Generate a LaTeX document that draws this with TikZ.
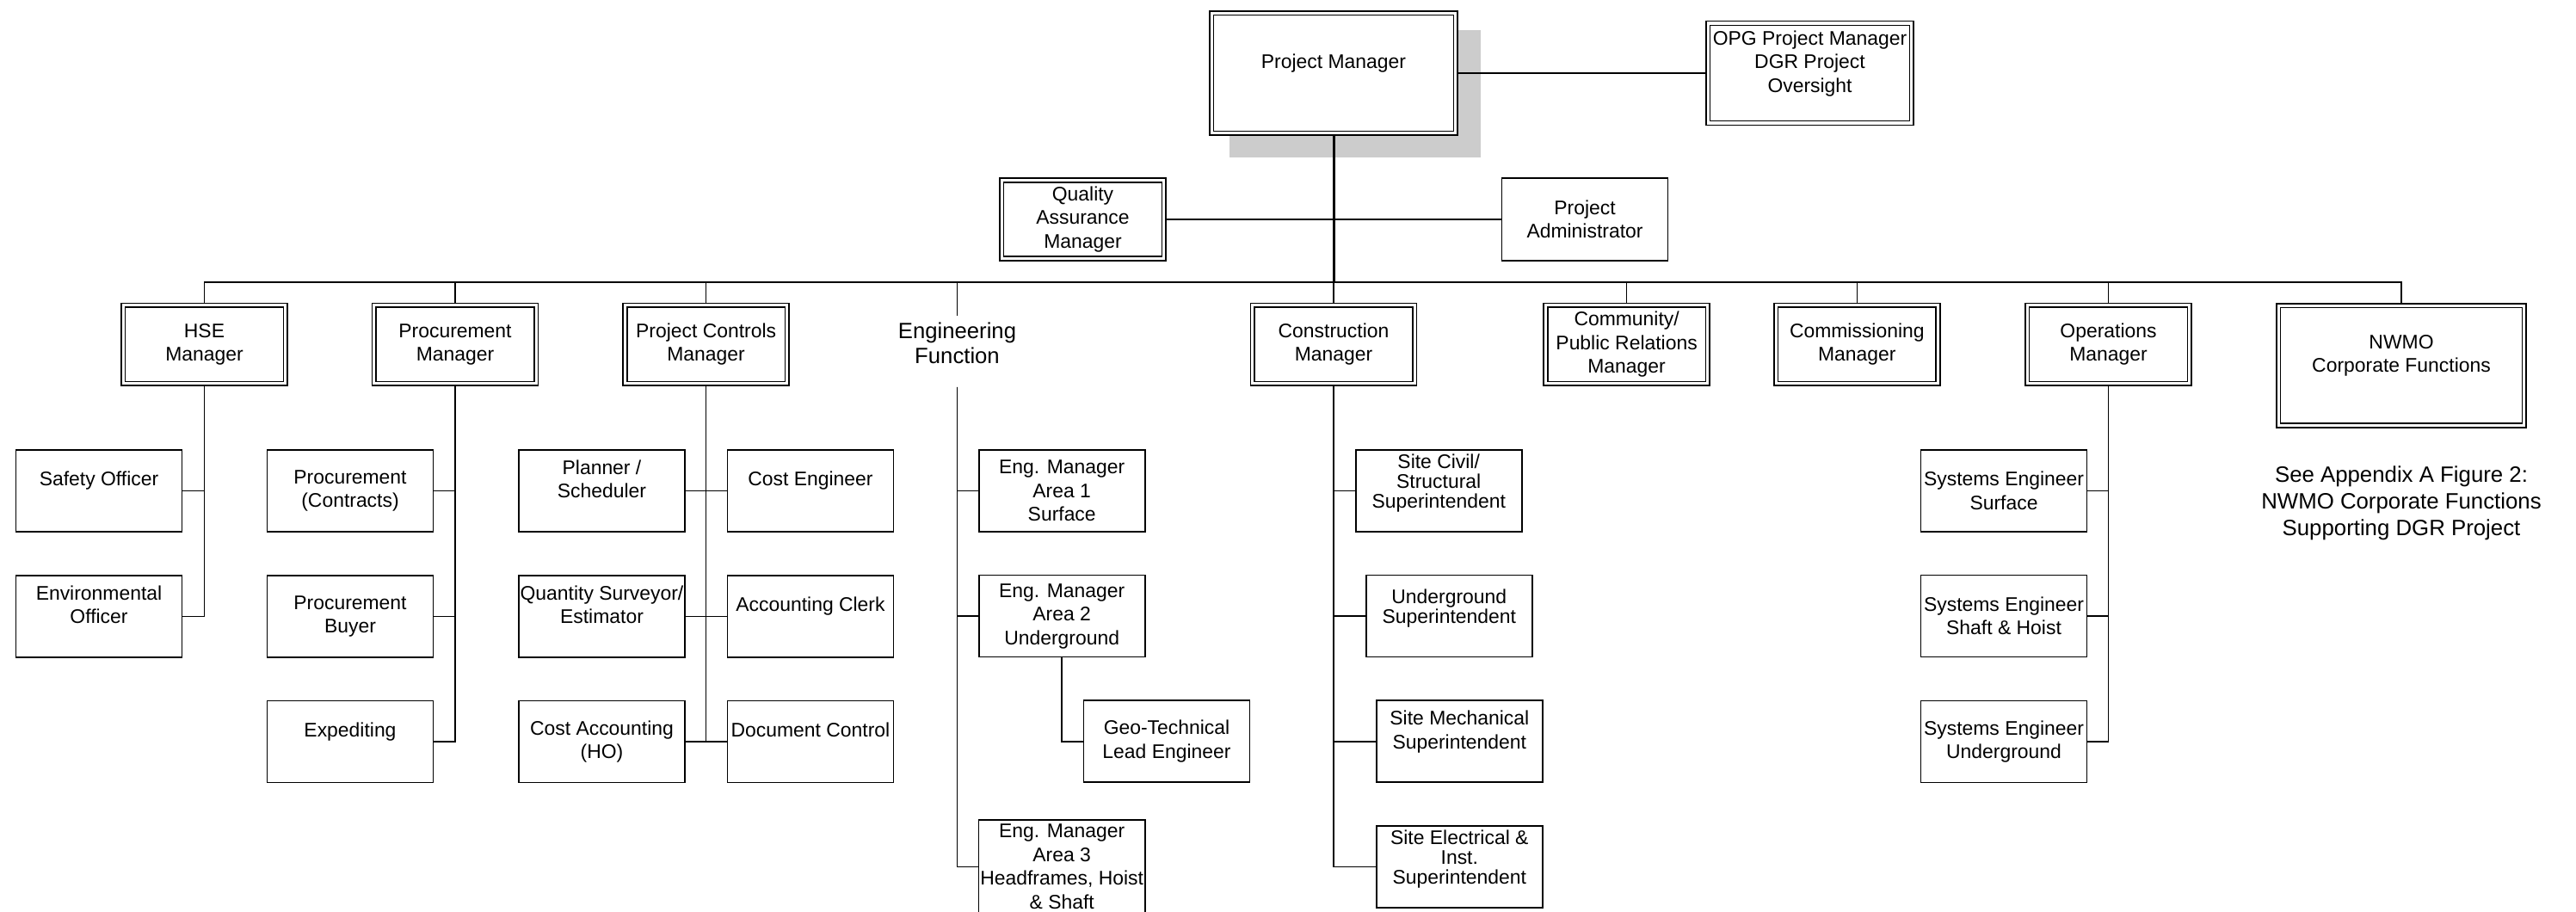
\documentclass[tikz,border=0pt]{standalone}
\usepackage{fontspec}
\setmainfont{Liberation Sans}
\definecolor{shadowgray}{RGB}{204,204,204}

\begin{document}
\begin{tikzpicture}[x=1cm,y=-1cm,
  every node/.style={font=\fontsize{6.52pt}{7.82pt}\selectfont,align=center,inner sep=0.5pt},
  unit/.style={rectangle,draw=black,line width=0.5pt,fill=white,minimum width=1.93cm,minimum height=0.95cm},
  head/.style={rectangle,draw=black,line width=0.45pt,double,double distance=0.9pt,outer sep=0.9pt,fill=white,minimum width=1.885cm,minimum height=0.91cm},
  tight/.style={font=\fontsize{6.52pt}{6.55pt}\selectfont},
  big/.style={font=\fontsize{7.31pt}{8.4pt}\selectfont},
  link/.style={draw=black,line width=0.45pt},
  busline/.style={draw=black,line width=0.65pt},
  trunk/.style={draw=black,line width=0.85pt}]

\useasboundingbox (0,0) rectangle (29.94,10.59);

\fill[shadowgray] (14.29,0.35) rectangle (17.21,1.83);
\node[head,minimum width=2.835cm,minimum height=1.395cm] (pm) at (15.50,0.85) {Project Manager\\\mbox{}};
\node[head,minimum width=2.365cm,minimum height=1.16cm] (opg) at (21.035,0.85) {OPG Project Manager\\DGR Project\\Oversight\\\mbox{}};
\node[head] (qa) at (12.585,2.55) {Quality\\Assurance\\Manager};
\node[unit,minimum height=0.96cm] (pa) at (18.42,2.55) {Project\\Administrator};

\node[head] (hse) at (2.375,4.003) {HSE\\Manager};
\node[head] (proc) at (5.29,4.003) {Procurement\\Manager};
\node[head] (pc) at (8.206,4.003) {Project Controls\\Manager};
\node[big,anchor=north,inner ysep=2pt] (eng) at (11.125,3.67) {Engineering\\Function};
\node[head] (con) at (15.50,4.003) {Construction\\Manager};
\node[head] (com) at (18.906,4.003) {Community/\\Public Relations\\Manager};
\node[head] (cms) at (21.583,4.003) {Commissioning\\Manager};
\node[head] (ops) at (24.505,4.003) {Operations\\Manager};
\node[head,minimum width=2.855cm,minimum height=1.395cm] (nwmo) at (27.91,4.249) {NWMO\\Corporate Functions\\\mbox{}};
\node[font=\fontsize{7.34pt}{8.82pt}\selectfont] (note) at (27.91,5.85) {See Appendix A Figure 2:\\NWMO Corporate Functions\\Supporting DGR Project};

\node[unit] (safety) at (1.15,5.703) {Safety Officer\\\mbox{}};
\node[unit] (env) at (1.15,7.163) {Environmental\\Officer\\\mbox{}};
\node[unit] (procc) at (4.07,5.703) {Procurement\\(Contracts)};
\node[unit] (buyer) at (4.07,7.163) {Procurement\\Buyer};
\node[unit] (exped) at (4.07,8.62) {Expediting\\\mbox{}};
\node[unit] (plan) at (6.995,5.703) {Planner /\\Scheduler\\\mbox{}};
\node[unit] (qs) at (6.995,7.163) {Quantity Surveyor/\\Estimator\\\mbox{}};
\node[unit] (costacc) at (6.995,8.62) {Cost Accounting\\(HO)};
\node[unit] (costeng) at (9.42,5.703) {Cost Engineer\\\mbox{}};
\node[unit] (clerk) at (9.42,7.163) {Accounting Clerk\\\mbox{}};
\node[unit] (doc) at (9.42,8.62) {Document Control\\\mbox{}};

\node[unit] (eng1) at (12.342,5.703) {Eng. Manager\\Area 1\\Surface};
\node[unit] (eng2) at (12.342,7.16) {Eng. Manager\\Area 2\\Underground};
\node[unit] (geo) at (13.56,8.617) {Geo-Technical\\Lead Engineer};
\node[unit,minimum height=1.085cm] (eng3) at (12.342,10.073) {Eng. Manager\\Area 3\\Headframes, Hoist\\\& Shaft};

\node[unit,tight] (civil) at (16.722,5.703) {Site Civil/\\Structural\\Superintendent\\\mbox{}};
\node[unit,tight] (ugsup) at (16.843,7.16) {Underground\\Superintendent\\\mbox{}};
\node[unit] (mech) at (16.963,8.617) {Site Mechanical\\Superintendent\\\mbox{}};
\node[unit,tight] (elec) at (16.963,10.073) {Site Electrical \&\\Inst.\\Superintendent\\\mbox{}};

\node[unit] (syss) at (23.29,5.703) {Systems Engineer\\Surface};
\node[unit] (sysh) at (23.29,7.16) {Systems Engineer\\Shaft \& Hoist};
\node[unit] (sysu) at (23.29,8.62) {Systems Engineer\\Underground};

\draw[link] (pm.east) -- (opg.west);
\draw[link] (qa.east) -- (pa.west);
\coordinate (hub) at (15.50,3.28);
\draw[trunk] (pm.south) -- (hub);
\foreach \n in {hse,proc,pc,eng,con,com,cms,ops,nwmo}
  \draw[link] (\n.north) |- (hub);
\draw[busline] (proc.north |- hub) -- (ops.north |- hub);

\foreach \n in {safety,env} \draw[link] (hse.south) |- (\n.east);
\foreach \n in {procc,buyer,exped} \draw[link] (proc.south) |- (\n.east);
\foreach \n in {plan,qs,costacc} \draw[link] (pc.south) |- (\n.east);
\foreach \n in {costeng,clerk,doc} \draw[link] (pc.south) |- (\n.west);
\coordinate (engbot) at (11.125,4.496);
\foreach \n in {eng1,eng2,eng3} \draw[link] (engbot) |- (\n.west);
\draw[link] (eng2.south) |- (geo.west);
\foreach \n in {civil,ugsup,mech,elec} \draw[link] (con.south) |- (\n.west);
\foreach \n in {syss,sysh,sysu} \draw[link] (ops.south) |- (\n.east);

\end{tikzpicture}
\end{document}
